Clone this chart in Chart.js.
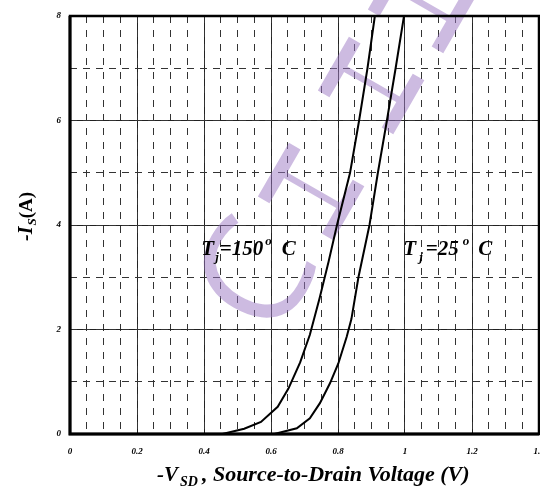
<!DOCTYPE html>
<html>
<head>
<meta charset="utf-8">
<script src="https://cdn.jsdelivr.net/npm/chart.js@4"></script>
<style>
  html, body { margin: 0; padding: 0; background: #fff; }
  #wrap { width: 540px; height: 486px; }
</style>
</head>
<body>
<div id="wrap"><canvas id="diodeChart" width="540" height="486"></canvas></div>
<script>
// curve: -VSD (V) vs -IS (A)
const vsd150 = [0.455, 0.52, 0.57, 0.62, 0.652, 0.687, 0.716, 0.745, 0.772, 0.797, 0.836, 0.863, 0.888, 0.91];
const is150  = [0,     0.1,  0.23, 0.52, 0.87,  1.37,  1.9,   2.6,   3.3,   4.0,   5.0,   6.0,   7.0,   8.0];
const vsd25  = [0.61, 0.677, 0.716, 0.746, 0.776, 0.801, 0.826, 0.84, 0.861, 0.894, 0.919, 0.946, 0.972, 0.997];
const is25   = [0,    0.11,  0.3,   0.59,  0.97,  1.35,  1.86,  2.2,  3.0,   4.0,   5.0,   6.0,   7.0,   8.0];

const xTickLabels = ["0", "0.2", "0.4", "0.6", "0.8", "1", "1.2", "1.4"];
const yTickLabels = ["0", "2", "4", "6", "8"];

const serif = "'Liberation Serif', 'Times New Roman', serif";
const zip = (xs, ys) => xs.map((x, i) => ({ x: x, y: ys[i] }));

// draws a run of text pieces (sub/superscripts) one after the other
function drawRuns(ctx, x, y, runs) {
  runs.forEach(r => {
    ctx.font = (r.style || "bold italic") + " " + r.size + "px " + serif;
    ctx.fillText(r.t, x, y + (r.dy || 0));
    x += ctx.measureText(r.t).width + (r.gap || 0);
  });
}

// watermark letters: [char, cx, cy, rotation deg, font px, x-stretch]
const watermark = [
  ["C", 262, 280, -60, 150, 1],
  ["H", 308, 197, 30, 87, 1.85],
  ["H", 368, 91, 30, 87, 1.85],
  ["H", 418, 10, 30, 87, 1.85]
];

const decorations = {
  id: "decorations",
  beforeDatasetsDraw(chart) {
    const ctx = chart.ctx;
    ctx.save();
    ctx.fillStyle = "rgba(155,120,195,0.5)";
    ctx.textAlign = "center";
    ctx.textBaseline = "middle";
    watermark.forEach(([ch, cx, cy, rot, size, sx]) => {
      ctx.save();
      ctx.font = "400 " + size + "px 'Open Sans', 'Liberation Sans', sans-serif";
      ctx.translate(cx, cy);
      ctx.rotate(rot * Math.PI / 180);
      ctx.scale(sx, 1);
      ctx.fillText(ch, 0, 0);
      ctx.restore();
    });
    ctx.restore();
  },
  afterDatasetsDraw(chart) {
    const ctx = chart.ctx;
    const xs = chart.scales.x, ys = chart.scales.y;
    ctx.save();
    ctx.fillStyle = "#000";
    ctx.textBaseline = "alphabetic";
    const yl = ys.getPixelForValue(3.42);
    drawRuns(ctx, xs.getPixelForValue(0.392), yl, [
      { t: "T", size: 21, gap: 1 }, { t: "j", size: 13, dy: 6, gap: 1 }, { t: "=150", size: 21, gap: 2 },
      { t: "o", size: 13, dy: -10, gap: 10 }, { t: "C", size: 21 }
    ]);
    drawRuns(ctx, xs.getPixelForValue(0.995), yl, [
      { t: "T", size: 21, gap: 3 }, { t: "j", size: 13, dy: 6, gap: 3 }, { t: "=25", size: 21, gap: 4 },
      { t: "o", size: 13, dy: -10, gap: 9 }, { t: "C", size: 21 }
    ]);

    // axis titles
    drawRuns(ctx, 157, 481, [
      { t: "-V", size: 21, gap: 2 }, { t: "SD", size: 14, dy: 5, gap: 4 },
      { t: ", Source-to-Drain Voltage (V)", size: 22 }
    ]);
    ctx.translate(32, 241);
    ctx.rotate(-Math.PI / 2);
    drawRuns(ctx, 0, 0, [
      { t: "-I", size: 20, gap: 1 }, { t: "S", size: 13, dy: 4 }, { t: "(A)", size: 19, style: "bold" }
    ]);
    ctx.restore();

    // frame
    const ca = chart.chartArea;
    ctx.save();
    ctx.strokeStyle = "#000";
    ctx.lineWidth = 2.5;
    ctx.strokeRect(ca.left, ca.top, ca.right - ca.left, ca.bottom - ca.top);
    ctx.lineWidth = 3;
    ctx.beginPath();
    ctx.moveTo(ca.left, ca.top);
    ctx.lineTo(ca.left, ca.bottom);
    ctx.lineTo(ca.right, ca.bottom);
    ctx.stroke();
    ctx.restore();
  }
};

const tickFont = { family: serif, size: 9, style: "italic", weight: "bold" };

new Chart(document.getElementById("diodeChart").getContext("2d"), {
  type: "line",
  data: {
    datasets: [
      { label: "Tj=150", data: zip(vsd150, is150) },
      { label: "Tj=25", data: zip(vsd25, is25) }
    ]
  },
  options: {
    responsive: false,
    animation: false,
    events: [],
    elements: {
      line: { borderColor: "#000", borderWidth: 2, tension: 0 },
      point: { radius: 0 }
    },
    layout: { padding: { top: 16, right: 1, left: 0, bottom: 0 } },
    plugins: { legend: { display: false }, tooltip: { enabled: false } },
    scales: {
      x: {
        type: "linear", min: 0, max: 1.4,
        border: { display: false },
        grid: { color: "#222", lineWidth: 1, drawTicks: false },
        ticks: {
          stepSize: 0.2, padding: 12, color: "#000", font: tickFont, maxRotation: 0,
          callback: (v, i) => xTickLabels[i]
        },
        afterFit: s => { s.height = 52; s.paddingLeft = 0; s.paddingRight = 0; }
      },
      x2: {
        type: "linear", position: "bottom", min: 0, max: 1.4,
        border: { display: false, dash: [7, 7] },
        grid: { color: "#333", lineWidth: 1, drawTicks: false },
        ticks: { stepSize: 0.05, display: false },
        afterFit: s => { s.height = 0; s.paddingLeft = 0; s.paddingRight = 0; }
      },
      y: {
        type: "linear", min: 0, max: 8,
        border: { display: false },
        grid: { color: "#222", lineWidth: 1, drawTicks: false },
        ticks: {
          stepSize: 2, padding: 9, color: "#000", font: tickFont,
          callback: (v, i) => yTickLabels[i]
        },
        afterFit: s => { s.width = 70; s.paddingTop = 0; s.paddingBottom = 0; }
      },
      y2: {
        type: "linear", position: "left", min: 0, max: 8,
        border: { display: false, dash: [7, 6] },
        grid: { color: "#333", lineWidth: 1, drawTicks: false },
        ticks: { stepSize: 1, display: false },
        afterFit: s => { s.width = 0; s.paddingTop = 0; s.paddingBottom = 0; }
      }
    }
  },
  plugins: [decorations]
});
</script>
</body>
</html>
